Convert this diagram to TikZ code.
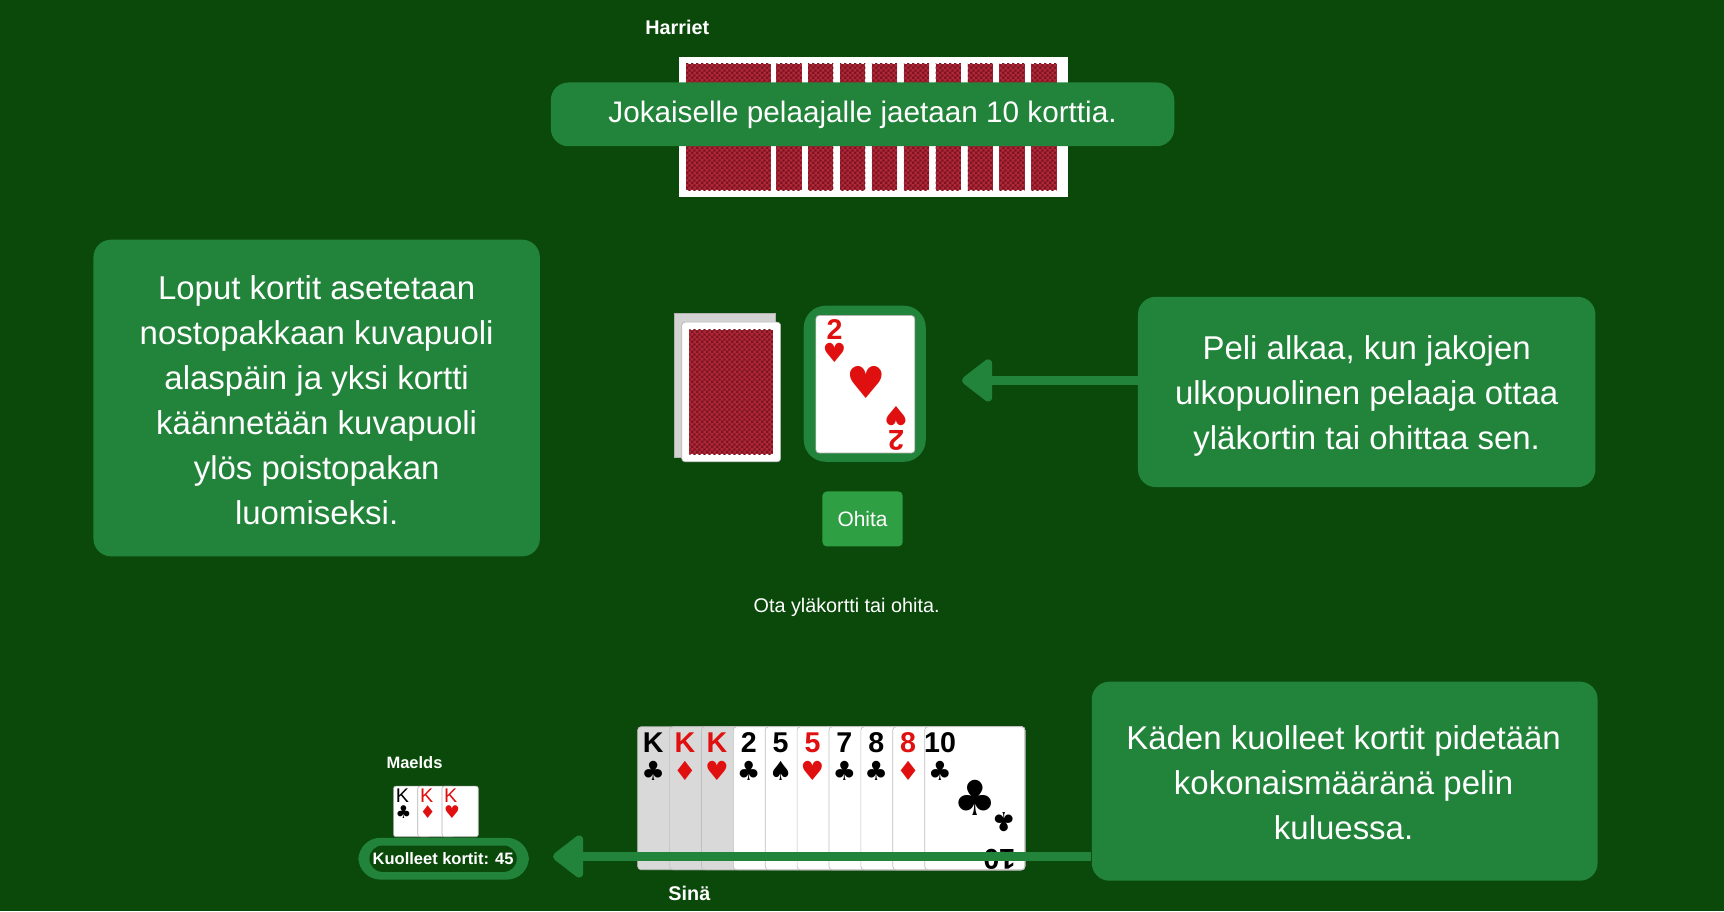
\documentclass[tikz,border=0pt]{standalone}
\usepackage{fontspec}
\setmainfont{Liberation Sans}
\newfontfamily\symf{DejaVu Sans}
\usetikzlibrary{patterns,arrows.meta}
\definecolor{felt}{HTML}{0B490B}
\definecolor{bub}{HTML}{22843A}
\definecolor{btn}{HTML}{2EA043}
\definecolor{cred}{HTML}{E01010}
\definecolor{back}{HTML}{B02838}
\definecolor{backd}{HTML}{7A1420}
\pgfdeclarepatternformonly{finecheck}{\pgfpointorigin}{\pgfqpoint{2.4pt}{2.4pt}}{\pgfqpoint{2.4pt}{2.4pt}}{%
  \pgfpathrectangle{\pgfpointorigin}{\pgfqpoint{1.2pt}{1.2pt}}%
  \pgfpathrectangle{\pgfqpoint{1.2pt}{1.2pt}}{\pgfqpoint{1.2pt}{1.2pt}}%
  \pgfusepath{fill}}
\tikzset{
 bubble/.style={fill=bub,rounded corners=8pt,inner sep=0pt},
 btxt/.style={text=white,font=\fontsize{15}{20.5}\selectfont,align=center},
 cardw/.style={fill=white,draw=gray!60,line width=0.3pt,rounded corners=1.5pt},
 lbl/.style={text=white,font=\bfseries\fontsize{9}{10}\selectfont},
 rank/.style={font=\bfseries\fontsize{13}{13}\selectfont,inner sep=0pt,anchor=north},
 suit/.style={font=\symf\fontsize{12}{12}\selectfont,inner sep=0pt,anchor=north},
 garrow/.style={draw=bub,line width=4pt,-{Triangle[length=15pt,width=22pt,round]}},
}
\begin{document}
\begin{tikzpicture}[x=0.5pt,y=-0.5pt]
\fill[felt] (0,0) rectangle (1568,829);
\useasboundingbox (0,0) rectangle (1568,829);
% Harriet
\node[lbl] (harriet) at (616,25) {Harriet};
\fill[white] (618,52) rectangle (971,179);
\fill[back] (624,58) rectangle (701,173);
\fill[pattern=finecheck,pattern color=backd] (624,58) rectangle (701,173);
\foreach \i in {1,...,9}{
  \pgfmathsetmacro\xx{706+29*(\i-1)}
  \fill[back] (\xx,58) rectangle (\xx+23,173);
  \fill[pattern=finecheck,pattern color=backd] (\xx,58) rectangle (\xx+23,173);
}
\node[bubble,minimum width=283.5pt,minimum height=29pt] (b1) at (784.5,104) {};
\node[text=white,font=\fontsize{13.5}{16}\selectfont] (t1) at (b1) {Jokaiselle pelaajalle jaetaan 10 korttia.};
% bubble 2
\node[bubble,minimum width=203pt,minimum height=144pt] (b2) at (288,362) {};
\node[btxt] (t2) at (288,364) {Loput kortit asetetaan\\nostopakkaan kuvapuoli\\alaspäin ja yksi kortti\\käännetään kuvapuoli\\ylös poistopakan\\luomiseksi.};
% deck
\draw[fill=gray!35,draw=gray!60,line width=0.3pt] (613,285) rectangle (705,416);
\draw[cardw] (620,293) rectangle (710,420);
\fill[back] (627,300) rectangle (703,413);
\fill[pattern=finecheck,pattern color=backd] (627,300) rectangle (703,413);
% discard
\node[fill=bub,rounded corners=10pt,minimum width=55.5pt,minimum height=71pt] (disc) at (786.5,349) {};
\draw[cardw] (742,287) rectangle (832,412);
\node[rank,text=cred] at (759,290) {2};
\node[suit,text=cred] at (759,312) {♥};
\node[text=cred,font=\symf\fontsize{20}{20}\selectfont,inner sep=0pt] at (788,348) {♥};
\node[rank,text=cred,rotate=180,anchor=north] at (815,410) {2};
\node[suit,text=cred,rotate=180,anchor=north] at (815,388) {♥};
% bubble 3
\node[bubble,minimum width=208pt,minimum height=86.5pt] (b3) at (1243,356.5) {};
\node[btxt] (t3) at (1243,360) {Peli alkaa, kun jakojen\\ulkopuolinen pelaaja ottaa\\yläkortin tai ohittaa sen.};
\coordinate (a3) at (875,346);
\draw[garrow] (b3.west |- a3) -- (a3);
% button
\node[fill=btn,rounded corners=2pt,minimum width=36.5pt,minimum height=25pt,text=white,font=\fontsize{9.5}{10}\selectfont] (ohita) at (784.5,472) {Ohita};
\node[text=white,font=\fontsize{9}{10}\selectfont] (ota) at (770,552) {Ota yläkortti tai ohita.};
% hand
\foreach \i/\r/\s/\c in {0/K/♣/black,1/K/♦/cred,2/K/♥/cred,3/2/♣/black,4/5/♠/black,5/5/♥/cred,6/7/♣/black,7/8/♣/black,8/8/♦/cred,9/10/♣/black}{
  \pgfmathsetmacro\xx{580+29*\i}
  \ifnum\i<3 \def\cf{gray!30}\else\def\cf{white}\fi
  \draw[fill=\cf,draw=gray!50,line width=0.3pt,rounded corners=1.5pt] (\xx,661) rectangle (932,791);
  \node[rank,text=\c] at (\xx+14,666) {\r};
  \node[suit,text=\c] at (\xx+14,692) {\s};
}
\node[font=\symf\fontsize{22}{22}\selectfont,inner sep=0pt] at (887,726) {♣};
\node[font=\symf\fontsize{12}{12}\selectfont,inner sep=0pt,rotate=180] at (913,748) {♣};
\node[font=\bfseries\fontsize{13}{13}\selectfont,inner sep=0pt,rotate=180,anchor=north] at (909,791) {10};
\node[lbl] (sina) at (627,813) {Sinä};
% melds
\node[text=white,font=\bfseries\fontsize{7.5}{8}\selectfont] (maelds) at (377,694) {Maelds};
\foreach \i/\s/\c in {0/♣/black,1/♦/cred,2/♥/cred}{
  \pgfmathsetmacro\xx{358+22*\i}
  \draw[fill=white,draw=gray!60,line width=0.3pt,rounded corners=1pt] (\xx,715) rectangle (\xx+33,761);
  \node[inner sep=0pt,anchor=north,text=\c,font=\fontsize{9}{9}\selectfont] at (\xx+8,717) {K};
  \node[inner sep=0pt,anchor=north,text=\c,font=\symf\fontsize{8}{8}\selectfont] at (\xx+9,732) {\s};
}
\node[fill=bub,rounded corners=10pt,minimum width=77.5pt,minimum height=19pt] (pillo) at (403.5,781) {};
\node[fill=felt,rounded corners=6pt,minimum width=67pt,minimum height=12pt,text=white,font=\bfseries\fontsize{7.5}{8}\selectfont,inner sep=1pt] (pill) at (403,781) {Kuolleet kortit: 45};
% bubble 4
\node[bubble,minimum width=230pt,minimum height=90.5pt] (b4) at (1223,710.5) {};
\node[btxt] (t4) at (1222,712) {Käden kuolleet kortit pidetään\\kokonaismääränä pelin\\kuluessa.};
\coordinate (a4) at (503,779);
\draw[garrow] (b4.west |- a4) -- (a4);
\end{tikzpicture}
\end{document}
